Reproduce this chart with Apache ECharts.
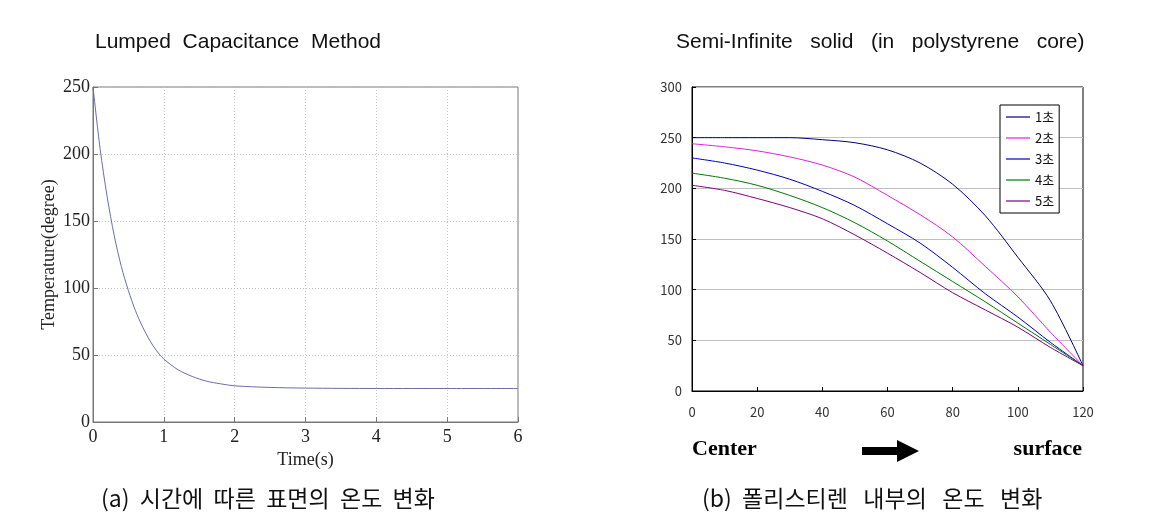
<!DOCTYPE html>
<html>
<head>
<meta charset="utf-8">
<script src="https://cdn.jsdelivr.net/npm/echarts@6/dist/echarts.min.js"></script>
<style>
html,body{margin:0;padding:0;background:#fff;}
#chart{width:1149px;height:529px;}
</style>
</head>
<body>
<div id="chart"></div>
<script>
// ---- Left chart: Lumped Capacitance Method ----
var timeS = [0, 0.1, 0.2, 0.3, 0.4, 0.5, 0.6, 0.7, 0.8, 0.9, 1.0, 1.2, 1.4, 1.6, 1.8, 2.0, 2.5, 3.0, 4.0, 5.0, 6.0];
var surfaceTemp = [250, 204, 168, 139, 116, 98, 83, 71, 61, 53, 47, 39, 34, 30.5, 28.5, 27, 25.8, 25.3, 25, 25, 25];

// ---- Right chart: Semi-Infinite solid ----
var depth = [0, 10, 20, 30, 40, 50, 60, 70, 80, 90, 100, 110, 120];
var seriesNames = ['1초', '2초', '3초', '4초', '5초'];
var sec1 = [250, 250, 250, 250, 248, 245, 238, 225, 204, 173, 132, 89, 25];
var sec2 = [244, 241, 237, 231, 223, 211, 193, 174, 152, 123, 93, 58, 25];
var sec3 = [230, 225, 218, 209, 197, 183, 165, 146, 122, 96, 73, 48, 25];
var sec4 = [215, 210, 203, 193, 181, 166, 148, 128, 108, 88, 67, 46, 25];
var sec5 = [203, 198, 190, 181, 170, 154, 136, 117, 97, 80, 63, 43, 25];
var seriesColors = ['#000080', '#e020e0', '#0000c0', '#007a00', '#800080'];

var titles = ['Lumped  Capacitance  Method', 'Semi-Infinite   solid   (in   polystyrene   core)'];
var captions = ['(a)  시간에  따른  표면의  온도  변화', '(b)  폴리스티렌   내부의   온도   변화'];

function pairs(xs, ys){ return xs.map(function(x,i){ return [x, ys[i]]; }); }

var chart = echarts.init(document.getElementById('chart'), null, {renderer:'canvas'});
var rightData = [sec1, sec2, sec3, sec4, sec5];
var rightSeries = rightData.map(function(d, i){
  return {
    name: seriesNames[i], type: 'line', xAxisIndex: 1, yAxisIndex: 1,
    data: pairs(depth, d), symbol: 'none', smooth: 0.3,
    lineStyle: {color: seriesColors[i], width: 1}, itemStyle: {color: seriesColors[i]},
    animation: false
  };
});

var option = {
  backgroundColor: '#fff',
  animation: false,
  title: [
    {text: titles[0], left: 90, top: 27, textStyle: {fontFamily: 'Liberation Sans', fontSize: 21, fontWeight: 'normal', color: '#111'}},
    {text: titles[1], left: 671, top: 27, textStyle: {fontFamily: 'Liberation Sans', fontSize: 21, fontWeight: 'normal', color: '#111'}},
    {text: captions[0], left: 96, top: 482, textStyle: {fontFamily: 'Noto Sans CJK KR', fontSize: 23, fontWeight: 'normal', color: '#111'}},
    {text: captions[1], left: 697, top: 482, textStyle: {fontFamily: 'Noto Sans CJK KR', fontSize: 23, fontWeight: 'normal', color: '#111'}}
  ],
  legend: {
    data: seriesNames, orient: 'vertical', left: 1000, top: 105,
    backgroundColor: '#fff', borderColor: '#000', borderWidth: 1,
    padding: [5, 5, 5, 6], itemGap: 7, itemWidth: 24, itemHeight: 1.2, icon: 'rect',
    textStyle: {fontFamily: 'Noto Sans CJK KR', fontSize: 13, color: '#111', lineHeight: 14}
  },
  grid: [
    {left: 93, top: 87, width: 425, height: 335, show: true, borderColor: '#777', borderWidth: 1, backgroundColor: 'transparent'},
    {left: 692, top: 87, width: 391, height: 304, show: true, borderColor: '#000', borderWidth: 1, backgroundColor: 'transparent'}
  ],
  xAxis: [
    {gridIndex: 0, type: 'value', min: 0, max: 6, interval: 1,
     name: 'Time(s)', nameLocation: 'middle', nameGap: 23,
     nameTextStyle: {fontFamily: 'Liberation Serif', fontSize: 18, color: '#222'},
     axisLine: {lineStyle: {color: '#777'}}, axisTick: {inside: true, length: 5, lineStyle: {color: '#777'}},
     axisLabel: {fontFamily: 'Liberation Serif', fontSize: 18, color: '#222', margin: 6},
     splitLine: {show: true, lineStyle: {color: '#c4c4c4', type: [1, 2]}}},
    {gridIndex: 1, type: 'value', min: 0, max: 120, interval: 20,
     axisLine: {lineStyle: {color: '#000'}}, axisTick: {inside: true, length: 4, lineStyle: {color: '#000'}},
     axisLabel: {fontFamily: 'Noto Sans CJK KR', fontSize: 13, color: '#333', margin: 15},
     splitLine: {show: false}}
  ],
  yAxis: [
    {gridIndex: 0, type: 'value', min: 0, max: 250, interval: 50,
     name: 'Temperature(degree)', nameLocation: 'middle', nameGap: 35,
     nameTextStyle: {fontFamily: 'Liberation Serif', fontSize: 18, color: '#222'},
     axisLine: {show: true, lineStyle: {color: '#777'}}, axisTick: {show: true, inside: true, length: 5, lineStyle: {color: '#777'}},
     axisLabel: {fontFamily: 'Liberation Serif', fontSize: 18, color: '#222', margin: 3},
     splitLine: {show: true, lineStyle: {color: '#c4c4c4', type: [1, 2]}}},
    {gridIndex: 1, type: 'value', min: 0, max: 300, interval: 50,
     axisLine: {show: true, lineStyle: {color: '#000'}}, axisTick: {show: true, inside: true, length: 4, lineStyle: {color: '#000'}},
     axisLabel: {fontFamily: 'Noto Sans CJK KR', fontSize: 13, color: '#333', margin: 10},
     splitLine: {show: true, lineStyle: {color: '#c0c0c0', width: 1}}}
  ],
  series: [
    {name: 'surface', type: 'line', xAxisIndex: 0, yAxisIndex: 0, data: pairs(timeS, surfaceTemp),
     symbol: 'none', smooth: 0.3, lineStyle: {color: '#6a6ea6', width: 1}, animation: false}
  ].concat(rightSeries),
  graphic: [
    {type: 'text', left: 692, top: 438, style: {text: 'Center', font: 'bold 22px "Liberation Serif"', fill: '#000'}},
    {type: 'text', right: 1149 - 1082, top: 438, style: {text: 'surface', font: 'bold 22px "Liberation Serif"', fill: '#000'}},
    {type: 'polygon', shape: {points: [[862, 447], [897, 447], [897, 440], [919, 451], [897, 462], [897, 455], [862, 455]]}, style: {fill: '#000'}}
  ]
};
chart.setOption(option);
</script>
</body>
</html>
